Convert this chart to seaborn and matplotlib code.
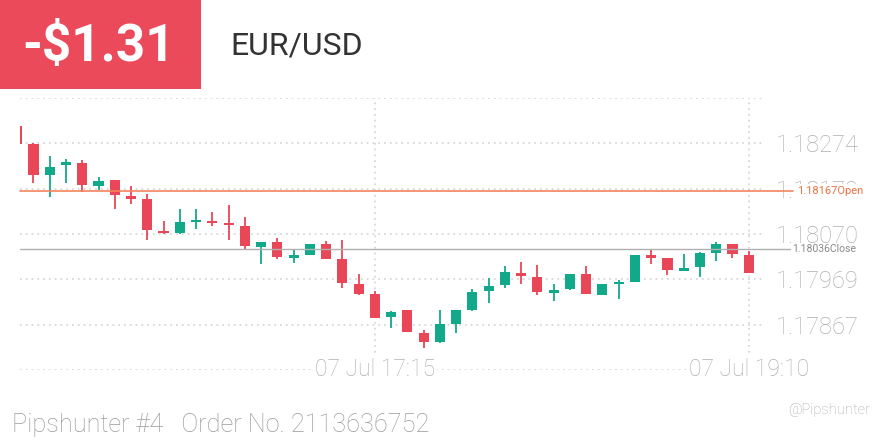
import numpy as np
import pandas as pd
import matplotlib
matplotlib.use("Agg")
import matplotlib.pyplot as plt
import seaborn as sns

# 5 minute candles, 15:25 -> 19:10
opens = [1.18313, 1.18272, 1.18203, 1.18225, 1.18230, 1.18178, 1.18191, 1.18155, 1.18149, 1.18077,
         1.18072, 1.18097, 1.18099, 1.18095, 1.18088, 1.18041, 1.18052, 1.18016, 1.18023, 1.18048,
         1.18014, 1.17958, 1.17935, 1.17884, 1.17899, 1.17848, 1.17827, 1.17868, 1.17899, 1.17942,
         1.17955, 1.17982, 1.17973, 1.17938, 1.17946, 1.17980, 1.17933, 1.17958, 1.17962, 1.18023,
         1.18016, 1.17987, 1.17996, 1.18027, 1.18048, 1.18023]
highs = [1.18313, 1.18274, 1.18245, 1.18238, 1.18236, 1.18198, 1.18191, 1.18178, 1.18160, 1.18099,
         1.18126, 1.18126, 1.18119, 1.18135, 1.18108, 1.18052, 1.18061, 1.18036, 1.18048, 1.18054,
         1.18057, 1.17980, 1.17942, 1.17897, 1.17899, 1.17854, 1.17899, 1.17899, 1.17946, 1.17971,
         1.17998, 1.18007, 1.18000, 1.17958, 1.17980, 1.17998, 1.17958, 1.17967, 1.18023, 1.18034,
         1.18016, 1.18025, 1.18030, 1.18052, 1.18048, 1.18032]
lows = [1.18272, 1.18185, 1.18153, 1.18185, 1.18164, 1.18169, 1.18126, 1.18137, 1.18057, 1.18070,
        1.18070, 1.18081, 1.18088, 1.18057, 1.18036, 1.18003, 1.18014, 1.18005, 1.18023, 1.18014,
        1.17949, 1.17933, 1.17881, 1.17859, 1.17850, 1.17814, 1.17825, 1.17848, 1.17897, 1.17915,
        1.17949, 1.17958, 1.17933, 1.17920, 1.17944, 1.17935, 1.17933, 1.17924, 1.17962, 1.18003,
        1.17978, 1.17987, 1.17973, 1.18009, 1.18016, 1.17982]
closes = [1.18272, 1.18203, 1.18220, 1.18232, 1.18180, 1.18189, 1.18158, 1.18149, 1.18079, 1.18072,
          1.18097, 1.18101, 1.18095, 1.18090, 1.18043, 1.18052, 1.18018, 1.18023, 1.18048, 1.18014,
          1.17960, 1.17935, 1.17881, 1.17895, 1.17850, 1.17827, 1.17868, 1.17899, 1.17940, 1.17953,
          1.17985, 1.17976, 1.17940, 1.17944, 1.17980, 1.17935, 1.17958, 1.17962, 1.18023, 1.18016,
          1.17989, 1.17994, 1.18027, 1.18048, 1.18025, 1.17982]

grid_prices = [1.17765, 1.17867, 1.17969, 1.18070, 1.18172, 1.18274, 1.18376]
tick_prices = [1.17867, 1.17969, 1.18070, 1.18172, 1.18274]
time_ticks = ["07 Jul 17:15", "07 Jul 19:10"]
open_price = 1.18167
close_price = 1.18036
pnl = "-$1.31"
symbol = "EUR/USD"

RED = "#E94657"
GREEN = "#12A98A"

sns.set_style("white")
plt.rcParams['font.family'] = ['Roboto', 'DejaVu Sans']

df = pd.DataFrame({"open": opens, "high": highs, "low": lows, "close": closes})
df["time"] = pd.date_range("2021-07-07 15:25", periods=len(df), freq="5min")
df["i"] = np.arange(len(df))
df["up"] = df["close"] >= df["open"]
df["color"] = np.where(df["up"], GREEN, RED)

fig = plt.figure(figsize=(8.8, 4.4), dpi=100)
ax = fig.add_axes([20/880, 70/440, 745/880, 272/440])

# grid
for p in grid_prices:
    ax.axhline(p, color="#D8D8D8", lw=1.3, ls=(0, (1, 2.2)), zorder=0)
for lbl in time_ticks:
    t = pd.Timestamp("2021-07-07 " + lbl[-5:])
    xi = df.loc[df["time"] == t, "i"].iloc[0]
    ax.axvline(xi, color="#D8D8D8", lw=1.3, ls=(0, (1, 2.2)), zorder=0)
    ax.text(xi, grid_prices[0], lbl, ha="center", va="center", fontsize=16.5, fontweight="light",
            color="#B0B0B0", bbox=dict(facecolor="white", edgecolor="none", pad=1.5), clip_on=False)

# candles
ax.vlines(df["i"], df["low"], df["high"], colors=df["color"], lw=1.3, zorder=2)
body = (df["close"] - df["open"]).abs().clip(lower=0.000035)
ax.bar(df["i"], body, bottom=df[["open", "close"]].min(axis=1), width=0.62,
       color=df["color"], edgecolor="none", zorder=3)

# open / close lines
ax.axhline(open_price, xmin=0, xmax=1.038, color="#F3845C", lw=1.2, clip_on=False, zorder=4)
ax.axhline(close_price, xmin=0, xmax=1.033, color="#B0B0B0", lw=1.0, clip_on=False, zorder=4)

ax.set_xlim(0.17, 46.0)
ax.set_ylim(grid_prices[0], grid_prices[-1])
ax.set_xticks([])
ax.yaxis.tick_right()
ax.set_yticks(tick_prices)
ax.set_yticklabels([f"{p:.5f}" for p in tick_prices])
ax.tick_params(axis="y", length=0, pad=8, labelsize=17, labelcolor="#B0B0B0")
for t in ax.get_yticklabels():
    t.set_fontweight("light")
sns.despine(ax=ax, left=True, bottom=True, right=True, top=True)

ax.text(1.043, open_price, f"{open_price:.5f}Open", transform=ax.get_yaxis_transform(),
        ha="left", va="center", fontsize=8, color="#F07040",
        bbox=dict(facecolor="white", edgecolor="none", pad=1.5), clip_on=False, zorder=5)
ax.text(1.037, close_price, f"{close_price:.5f}Close", transform=ax.get_yaxis_transform(),
        ha="left", va="center", fontsize=7.5, color="#888888",
        bbox=dict(facecolor="white", edgecolor="none", pad=1.0), clip_on=False, zorder=5)

# header
fig.patches.append(plt.Rectangle((0, 1 - 89/440), 201/880, 89/440, transform=fig.transFigure,
                                 facecolor="#EA4A5A", edgecolor="none"))
fig.text(99/880, 1 - 47/440, pnl, ha="center", va="center", fontsize=37, fontweight="bold", color="white")
fig.text(230/880, 1 - 46/440, symbol, ha="left", va="center", fontsize=23, color="#333333")

# footer
fig.text(12/880, 1 - 425/440, "Pipshunter #4   Order No. 2113636752", ha="left", va="center",
         fontsize=18.2, fontweight="light", color="#9A9A9A")
fig.text(870/880, 1 - 410/440, "@Pipshunter", ha="right", va="center", fontsize=10.5,
         fontweight="light", color="#AAAAAA")

fig.savefig("out.png", dpi=100)
